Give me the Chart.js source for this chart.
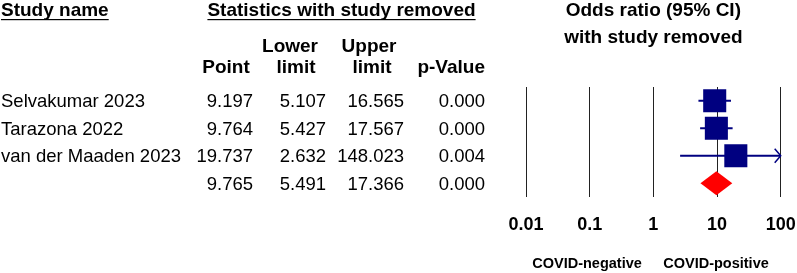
<!DOCTYPE html>
<html>
<head>
<meta charset="utf-8">
<script src="https://cdn.jsdelivr.net/npm/chart.js@4.4.1/dist/chart.umd.min.js"></script>
<style>
  html, body { margin: 0; padding: 0; background: #fff; }
  canvas { display: block; }
</style>
</head>
<body>
<canvas id="forest" width="797" height="273"></canvas>
<script>
// forest plot: odds ratio with one study removed at a time

const studies = ['Selvakumar 2023', 'Tarazona 2022', 'van der Maaden 2023', ''];
const pointEst = [9.197, 9.764, 19.737, 9.765];
const lowerLim = [5.107, 5.427, 2.632, 5.491];
const upperLim = [16.565, 17.567, 148.023, 17.366];
const pValues = ['0.000', '0.000', '0.004', '0.000'];
const xTicks = [0.01, 0.1, 1, 10, 100];
const sideLabels = ['COVID-negative', 'COVID-positive'];

const NAVY = '#000080';
const FONT = '"Liberation Sans", Arial, sans-serif';
const summaryRow = studies.length - 1;
const fmt = v => v.toFixed(3);

// CI whiskers for the individual rows
const ciSets = [];
for (let i = 0; i < summaryRow; i++) {
    ciSets.push({
        data: [{ x: lowerLim[i], y: i }, { x: upperLim[i], y: i }],
        showLine: true,
        borderColor: NAVY,
        borderWidth: 2,
        pointRadius: 0,
        order: 2
    });
}

const squares = {
    data: pointEst.slice(0, summaryRow).map((v, i) => ({ x: v, y: i })),
    pointStyle: 'rect',
    pointRadius: 16.3,
    backgroundColor: NAVY,
    borderColor: NAVY,
    borderWidth: 0,
    order: 1
};

const forestPlugin = {
    id: 'forestExtras',
    afterDatasetsDraw(chart) {
        const { ctx, scales: { x, y } } = chart;
        ctx.save();
        // summary diamond
        const yc = y.getPixelForValue(summaryRow);
        ctx.fillStyle = '#ff0000';
        ctx.beginPath();
        ctx.moveTo(x.getPixelForValue(lowerLim[summaryRow]), yc);
        ctx.lineTo(x.getPixelForValue(pointEst[summaryRow]), yc - 12);
        ctx.lineTo(x.getPixelForValue(upperLim[summaryRow]), yc);
        ctx.lineTo(x.getPixelForValue(pointEst[summaryRow]), yc + 12);
        ctx.closePath();
        ctx.fill();
        // arrows where the CI runs past the axis
        ctx.strokeStyle = NAVY;
        ctx.lineWidth = 1.5;
        for (let i = 0; i < summaryRow; i++) {
            if (upperLim[i] > x.max) {
                const ax = x.getPixelForValue(x.max), ay = y.getPixelForValue(i);
                ctx.beginPath();
                ctx.moveTo(ax - 6, ay - 7);
                ctx.lineTo(ax, ay);
                ctx.lineTo(ax - 6, ay + 7);
                ctx.stroke();
            }
        }
        ctx.restore();
    },
    afterDraw(chart) {
        const { ctx, scales: { x, y } } = chart;
        ctx.save();
        ctx.fillStyle = '#000';
        ctx.strokeStyle = '#000';
        ctx.textBaseline = 'alphabetic';

        const underlined = (txt, xx, yy, align) => {
            ctx.textAlign = align;
            ctx.fillText(txt, xx, yy);
            const w = ctx.measureText(txt).width;
            const x0 = align === 'center' ? xx - w / 2 : xx;
            ctx.fillRect(x0, yy + 3, w, 1.2);
        };

        // headers
        ctx.font = 'bold 19px ' + FONT;
        underlined('Study name', 1, 16, 'left');
        underlined('Statistics with study removed', 341.5, 16, 'center');
        const mid = (x.left + x.right) / 2;
        ctx.textAlign = 'center';
        ctx.fillText('Odds ratio (95% CI)', mid, 16);
        ctx.fillText('with study removed', mid, 43);
        ctx.fillText('Lower', 290, 52);
        ctx.fillText('Upper', 369, 52);
        ctx.fillText('Point', 226, 73);
        ctx.fillText('limit', 296, 73);
        ctx.fillText('limit', 372, 73);
        ctx.textAlign = 'right';
        ctx.fillText('p-Value', 485, 73);

        // table rows
        ctx.font = '18.5px ' + FONT;
        studies.forEach((name, i) => {
            const by = y.getPixelForValue(i) + 6.5;
            ctx.textAlign = 'left';
            ctx.fillText(name, 1, by);
            ctx.textAlign = 'right';
            ctx.fillText(fmt(pointEst[i]), 253, by);
            ctx.fillText(fmt(lowerLim[i]), 326, by);
            ctx.fillText(fmt(upperLim[i]), 404, by);
            ctx.fillText(pValues[i], 485, by);
        });

        // axis tick labels
        ctx.font = 'bold 18px ' + FONT;
        ctx.textAlign = 'center';
        xTicks.forEach(t => ctx.fillText(String(t), x.getPixelForValue(t), 230));

        // favours labels
        ctx.font = 'bold 14.5px ' + FONT;
        ctx.fillText(sideLabels[0], 587, 268);
        ctx.fillText(sideLabels[1], 716, 268);
        ctx.restore();
    }
};

new Chart(document.getElementById('forest'), {
    type: 'scatter',
    data: { datasets: [...ciSets, squares] },
    options: {
        responsive: false,
        animation: false,
        devicePixelRatio: 1,
        layout: { padding: { left: 526, right: 16, top: 87, bottom: 76 } },
        plugins: {
            legend: { display: false },
            tooltip: { enabled: false }
        },
        scales: {
            x: {
                type: 'logarithmic',
                min: xTicks[0],
                max: xTicks[xTicks.length - 1],
                afterBuildTicks: (scale) => { scale.ticks = xTicks.map(v => ({ value: v })); },
                ticks: { display: false },
                grid: { color: '#222', lineWidth: 1, drawTicks: false },
                border: { display: false }
            },
            y: {
                type: 'linear',
                min: -0.5,
                max: studies.length - 0.5,
                reverse: true,
                display: false
            }
        }
    },
    plugins: [forestPlugin]
});
</script>
</body>
</html>
